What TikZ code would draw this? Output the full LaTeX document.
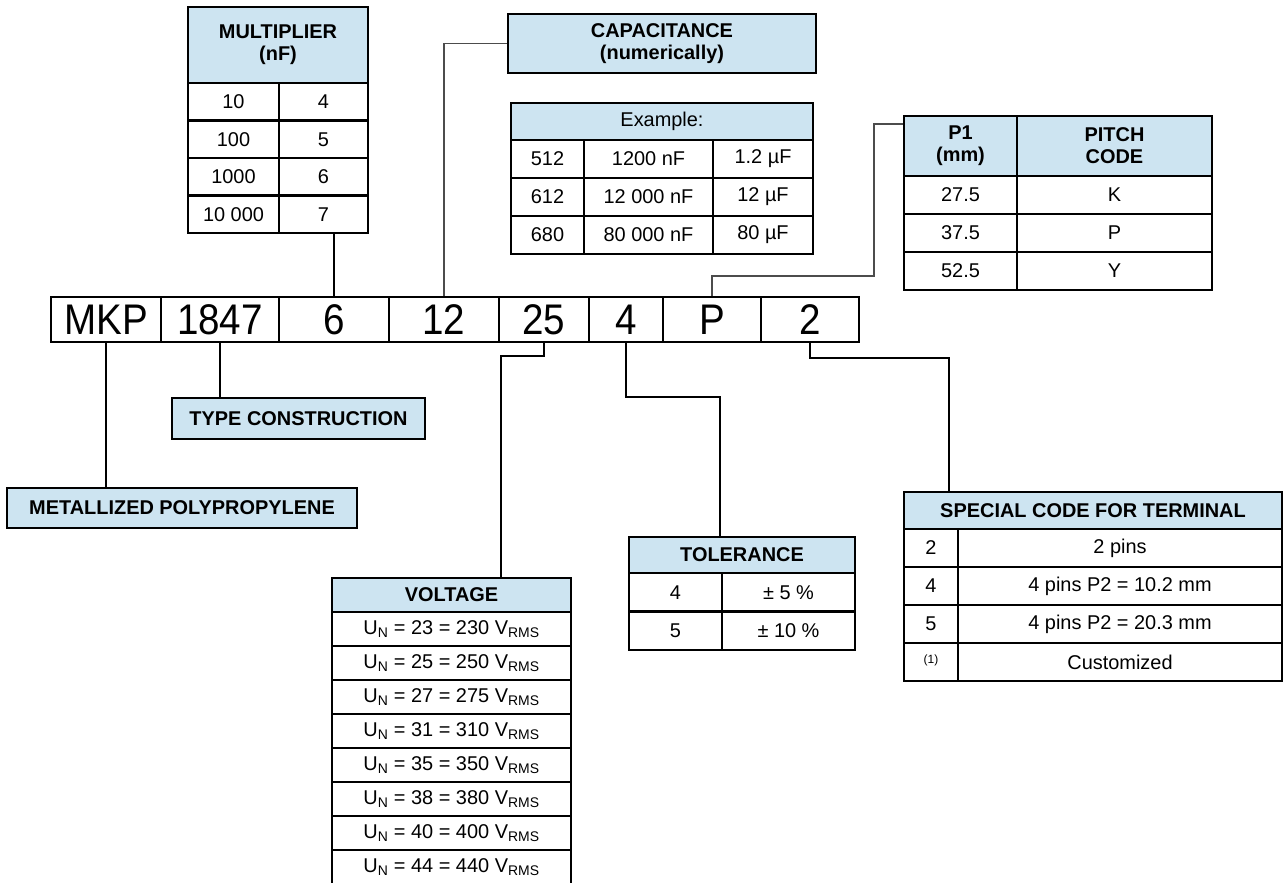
\documentclass[tikz,border=0pt]{standalone}
\usepackage{fontspec}
\setmainfont{Liberation Sans}
\newfontfamily\codefont[FakeStretch=0.9]{Liberation Sans}
\definecolor{hdblue}{RGB}{205,228,241}
\tikzset{
  cell/.style={draw, line width=2.4bp, inner sep=0pt, align=center, font=\fontsize{20}{22}\selectfont},
  hcell/.style={cell, fill=hdblue, font=\fontsize{20}{22}\selectfont\bfseries},
  codecell/.style={draw, line width=2.4bp, inner sep=0pt, minimum height=45bp, font=\fontsize{43}{43}\codefont},
  wire/.style={line width=2.2bp},
  finewire/.style={line width=1.5bp, draw=black!70},
}
\begin{document}
\begin{tikzpicture}[x=1bp, y=-1bp]
  \useasboundingbox (0,0) rectangle (1287,883);
  % part number
  \path
    (106,319.5) node[codecell, minimum width=110bp] (mkp){MKP}
    (220,319.5) node[codecell, minimum width=118bp] (type){1847}
    (334,319.5) node[codecell, minimum width=110bp] (mult){6}
    (444,319.5) node[codecell, minimum width=110bp] (cap){12}
    (544,319.5) node[codecell, minimum width=90bp] (volt){25}
    (626,319.5) node[codecell, minimum width=74bp] (tol){4}
    (712,319.5) node[codecell, minimum width=98bp] (pitch){P}
    (810,319.5) node[codecell, minimum width=98bp] (term){2};
  % multiplier
  \path
    (278,45) node[hcell, minimum width=180bp, minimum height=76bp] (multhd){MULTIPLIER\\(nF)}
    (233.5,101.75) node[cell, minimum width=91bp, minimum height=37.5bp] (m1a){10}
    (323.5,101.75) node[cell, minimum width=89bp, minimum height=37.5bp] (m1b){4}
    (233.5,139.25) node[cell, minimum width=91bp, minimum height=37.5bp] (m2a){100}
    (323.5,139.25) node[cell, minimum width=89bp, minimum height=37.5bp] (m2b){5}
    (233.5,176.75) node[cell, minimum width=91bp, minimum height=37.5bp] (m3a){1000}
    (323.5,176.75) node[cell, minimum width=89bp, minimum height=37.5bp] (m3b){6}
    (233.5,214.25) node[cell, minimum width=91bp, minimum height=37.5bp] (m4a){10 000}
    (323.5,214.25) node[cell, minimum width=89bp, minimum height=37.5bp] (m4b){7};
  % capacitance
  \path
    (662,43.5) node[hcell, minimum width=308bp, minimum height=59bp] (capbox){CAPACITANCE\\(numerically)}
    (662,121.5) node[cell, fill=hdblue, minimum width=302bp, minimum height=37bp] (exhd){Example:}
    (547.5,159) node[cell, minimum width=73bp, minimum height=38bp] (e1a){512}
    (648.5,159) node[cell, minimum width=129bp, minimum height=38bp] (e1b){1200 nF}
    (763,159) node[cell, minimum width=100bp, minimum height=38bp] (e1c){1.2 µF}
    (547.5,197) node[cell, minimum width=73bp, minimum height=38bp] (e2a){612}
    (648.5,197) node[cell, minimum width=129bp, minimum height=38bp] (e2b){12 000 nF}
    (763,197) node[cell, minimum width=100bp, minimum height=38bp] (e2c){12 µF}
    (547.5,235) node[cell, minimum width=73bp, minimum height=38bp] (e3a){680}
    (648.5,235) node[cell, minimum width=129bp, minimum height=38bp] (e3b){80 000 nF}
    (763,235) node[cell, minimum width=100bp, minimum height=38bp] (e3c){80 µF};
  % pitch
  \path
    (960.5,146) node[hcell, minimum width=113bp, minimum height=60bp] (p1hd){P1\\(mm)}
    (1114.5,146) node[hcell, minimum width=195bp, minimum height=60bp] (pchd){PITCH\\CODE}
    (960.5,195) node[cell, minimum width=113bp, minimum height=38bp] (p1a){27.5}
    (1114.5,195) node[cell, minimum width=195bp, minimum height=38bp] (p1b){K}
    (960.5,233) node[cell, minimum width=113bp, minimum height=38bp] (p2a){37.5}
    (1114.5,233) node[cell, minimum width=195bp, minimum height=38bp] (p2b){P}
    (960.5,271) node[cell, minimum width=113bp, minimum height=38bp] (p3a){52.5}
    (1114.5,271) node[cell, minimum width=195bp, minimum height=38bp] (p3b){Y};
  % boxes below
  \path
    (298.5,418.5) node[hcell, minimum width=253bp, minimum height=41bp] (typebox){TYPE CONSTRUCTION}
    (182,508) node[hcell, minimum width=350bp, minimum height=40bp] (metalbox){METALLIZED POLYPROPYLENE};
  % voltage
  \path
    (451.5,595) node[hcell, minimum width=239bp, minimum height=34bp] (volthd){VOLTAGE}
    (451.5,629) node[cell, minimum width=239bp, minimum height=34bp] (v1){U\textsubscript{N} = 23 = 230 V\textsubscript{RMS}}
    (451.5,663) node[cell, minimum width=239bp, minimum height=34bp] (v2){U\textsubscript{N} = 25 = 250 V\textsubscript{RMS}}
    (451.5,697) node[cell, minimum width=239bp, minimum height=34bp] (v3){U\textsubscript{N} = 27 = 275 V\textsubscript{RMS}}
    (451.5,731) node[cell, minimum width=239bp, minimum height=34bp] (v4){U\textsubscript{N} = 31 = 310 V\textsubscript{RMS}}
    (451.5,765) node[cell, minimum width=239bp, minimum height=34bp] (v5){U\textsubscript{N} = 35 = 350 V\textsubscript{RMS}}
    (451.5,799) node[cell, minimum width=239bp, minimum height=34bp] (v6){U\textsubscript{N} = 38 = 380 V\textsubscript{RMS}}
    (451.5,833) node[cell, minimum width=239bp, minimum height=34bp] (v7){U\textsubscript{N} = 40 = 400 V\textsubscript{RMS}}
    (451.5,867) node[cell, minimum width=239bp, minimum height=34bp] (v8){U\textsubscript{N} = 44 = 440 V\textsubscript{RMS}};
  % tolerance
  \path
    (742,555) node[hcell, minimum width=226bp, minimum height=36bp] (tolhd){TOLERANCE}
    (675.5,592.25) node[cell, minimum width=93bp, minimum height=38.5bp] (t1a){4}
    (788.5,592.25) node[cell, minimum width=133bp, minimum height=38.5bp] (t1b){± 5 \%}
    (675.5,630.75) node[cell, minimum width=93bp, minimum height=38.5bp] (t2a){5}
    (788.5,630.75) node[cell, minimum width=133bp, minimum height=38.5bp] (t2b){± 10 \%};
  % terminal
  \path
    (1093,510.5) node[hcell, minimum width=378bp, minimum height=37bp] (termhd){SPECIAL CODE FOR TERMINAL}
    (931,548) node[cell, minimum width=54bp, minimum height=38bp] (s1a){2}
    (1120,548) node[cell, minimum width=324bp, minimum height=38bp] (s1b){2 pins}
    (931,586) node[cell, minimum width=54bp, minimum height=38bp] (s2a){4}
    (1120,586) node[cell, minimum width=324bp, minimum height=38bp] (s2b){4 pins P2 = 10.2 mm}
    (931,624) node[cell, minimum width=54bp, minimum height=38bp] (s3a){5}
    (1120,624) node[cell, minimum width=324bp, minimum height=38bp] (s3b){4 pins P2 = 20.3 mm}
    (931,662) node[cell, minimum width=54bp, minimum height=38bp] (s4a){\fontsize{12}{12}\selectfont\raisebox{5bp}{(1)}}
    (1120,662) node[cell, minimum width=324bp, minimum height=38bp] (s4b){Customized};
  % connectors
  \coordinate (pbend) at (874,276);
  \coordinate (vbend) at (501,356);
  \coordinate (tbend) at (720,397);
  \coordinate (sbend) at (949,358);
  \draw[wire] (mkp.south) -- (mkp.south |- metalbox.north);
  \draw[wire] (type.south) -- (type.south |- typebox.north);
  \draw[wire] (mult.north) -- (mult.north |- m4b.south);
  \draw[finewire] (cap.north) |- (capbox.west);
  \draw[finewire] (pitch.north) |- (pbend) |- ([yshift=-9bp]p1hd.north west);
  \draw[wire] (volt.south) |- (vbend) -- (vbend |- volthd.north);
  \draw[wire] (tol.south) |- (tbend) -- (tbend |- tolhd.north);
  \draw[wire] (term.south) |- (sbend) -- (sbend |- termhd.north);
\end{tikzpicture}
\end{document}
